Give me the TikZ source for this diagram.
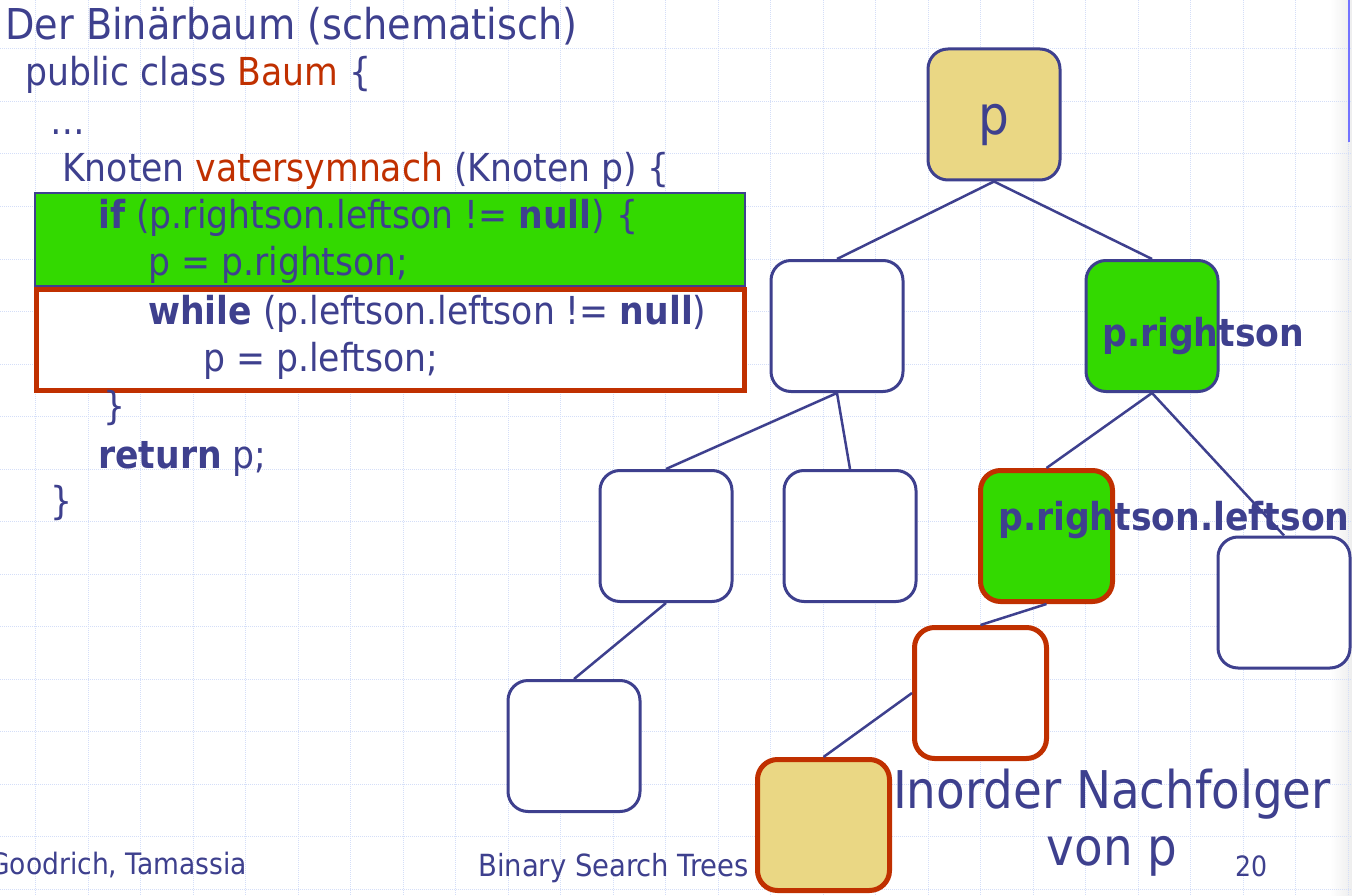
\documentclass[tikz,border=0pt]{standalone}
\usepackage{fontspec}
\setmainfont{DejaVu Sans Condensed}
\usetikzlibrary{positioning}
\definecolor{tblue}{RGB}{62,64,142}
\definecolor{tred}{RGB}{192,48,0}
\definecolor{tgreen}{RGB}{51,217,0}
\definecolor{ttan}{RGB}{234,215,132}
\definecolor{tgrid}{RGB}{212,222,248}
\newcommand{\fs}[1]{\fontsize{#1}{#1}\selectfont}

\begin{document}
\begin{tikzpicture}[x=1pt,y=-1pt,
  knoten/.style={draw=tblue, line width=3pt, rounded corners=20pt, minimum width=132pt, minimum height=131pt, inner sep=0pt, fill=white},
  kante/.style={draw=tblue, line width=2.5pt},
  zeile/.style={anchor=base west, inner sep=0pt, text=tblue, font=\fs{38.5}},
  marke/.style={anchor=base west, inner sep=0pt, text=tblue, font=\fs{38.5}\bfseries},
  fuss/.style={inner sep=0pt, text=tblue, font=\fs{30.5}},
  gitter/.style={draw=tgrid, line width=1pt, densely dotted}]
\useasboundingbox[fill=white] (0,0) rectangle (1352,896);
\shade[left color=white, right color=black!7] (1330,0) rectangle (1352,896);
% grid of the slide
\foreach \k in {0,...,25} \draw[gitter] ({35.5+52.5*\k},0) -- ({35.5+52.5*\k},896);
\foreach \k in {1,...,17} \draw[gitter] (0,{-3.5+52.5*\k}) -- (1352,{-3.5+52.5*\k});
\draw[line width=1.5pt, draw=blue!55] (1349,0) -- (1349,142);

% code
\node[anchor=base west, inner sep=0pt, text=tblue, font=\fs{42.5}] (titel) at (5,40) {Der Binärbaum (schematisch)};
\node[zeile] (l1) at (25,86) {public class \textcolor{tred}{Baum} \{};
\node[zeile] (l2) at (50,135) {…};
\node[zeile] (l3) at (62,182) {Knoten \textcolor{tred}{vatersymnach} (Knoten p) \{};
\draw[fill=tgreen, draw=tblue, line width=1.5pt] (35,193) rectangle (745,286);
\draw[fill=white, draw=tred, line width=5pt] (36,289) rectangle (744,390);
\node[zeile] (l4) at (98,229) {\textbf{if} (p.rightson.leftson != \textbf{null}) \{};
\node[zeile] (l5) at (148,276) {p = p.rightson;};
\node[zeile] (l6) at (148,324) {\textbf{while} (p.leftson.leftson != \textbf{null})};
\node[zeile] (l7) at (203,371) {p = p.leftson;};
\node[zeile] (l8) at (103,419) {\}};
\node[zeile] (l9) at (98,468) {\textbf{return} p;};
\node[zeile] (l10) at (50,514) {\}};

% tree
\node[knoten, fill=ttan, font=\fs{54}, text=tblue, text height=45pt, text depth=4pt] (p) at (994,114.5) {p};
\node[knoten] (a) at (837,326) {};
\node[knoten, fill=tgreen] (b) at (1152,326) {};
\node[knoten] (c) at (666,536) {};
\node[knoten] (d) at (850,536) {};
\node[knoten, fill=tgreen, draw=tred, line width=5pt] (e) at (1046.5,536) {};
\node[knoten] (f) at (1284,602.5) {};
\node[knoten] (g) at (574,746) {};
\node[knoten, draw=tred, line width=5pt] (h) at (980.5,693) {};
\node[knoten, fill=ttan, draw=tred, line width=5pt] (i) at (823.5,825) {};
\draw[kante] (p.south) -- (a.north);
\draw[kante] (p.south) -- (b.north);
\draw[kante] (a.south) -- (c.north);
\draw[kante] (a.south) -- (d.north);
\draw[kante] (b.south) -- (e.north);
\draw[kante] (b.south) -- (f.north);
\draw[kante] (c.south) -- (g.north);
\draw[kante] (e.south) -- (h.north);
\draw[kante] (h.west) -- (i.north);
\node[marke] (rs) at (1102,346) {p.rightson};
\node[marke] (rsl) at (998,530) {p.rightson.leftson};

% caption and footer
\node[anchor=base, inner sep=0pt, text=tblue, font=\fs{52}] (nf1) at (1112,808) {Inorder Nachfolger};
\node[anchor=base, inner sep=0pt, text=tblue, font=\fs{52}] (nf2) at (1112,865) {von p};
\node[fuss, anchor=base east, font=\fs{29.5}] (autor) at (247,874) {Goodrich, Tamassia};
\node[fuss, anchor=base west] (thema) at (478,876) {Binary Search Trees};
\node[fuss, anchor=base west, font=\fs{28}] (seite) at (1235,876) {20};
\end{tikzpicture}
\end{document}
